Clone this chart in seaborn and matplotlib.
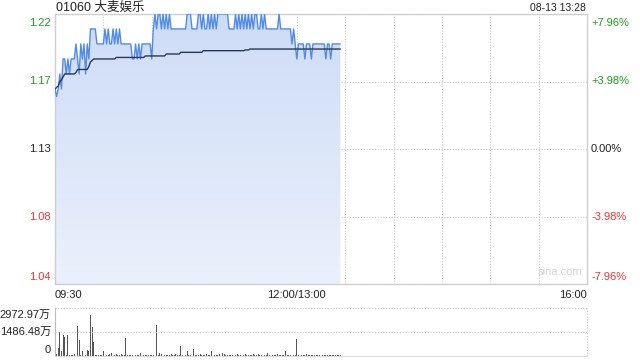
import numpy as np
import pandas as pd
import matplotlib
matplotlib.use("Agg")
import matplotlib.pyplot as plt
import seaborn as sns
from matplotlib.colors import LinearSegmentedColormap
from matplotlib.transforms import blended_transform_factory, offset_copy

# ---------------- data ----------------
title = "01060 大麦娱乐"
stamp = "08-13 13:28"
prev_close = 1.13
pct_levels = [7.96, 3.98, 0.0, -3.98, -7.96]
price_ticks = ["1.22", "1.17", "1.13", "1.08", "1.04"]
pct_ticks = ["+7.96%", "+3.98%", "0.00%", "-3.98%", "-7.96%"]
time_labels = ["09:30", "12:00/13:00", "16:00"]
time_label_pos = [0, 150, 330]
session_minutes = 330
vol_max = 2972.97
vol_labels = ["2972.97万", "1486.48万", "0"]

price = [
    1.17, 1.165, 1.17, 1.18, 1.17, 1.19, 1.19, 1.18, 1.19, 1.18,
    1.19, 1.19, 1.19, 1.20, 1.19, 1.18, 1.20, 1.19, 1.20, 1.18,
    1.20, 1.19, 1.21, 1.21, 1.21, 1.21, 1.20, 1.20, 1.20, 1.20,
    1.20, 1.21, 1.20, 1.21, 1.20, 1.20, 1.21, 1.20, 1.21, 1.20,
    1.21, 1.20, 1.20, 1.20, 1.20, 1.20, 1.20, 1.20, 1.19, 1.19,
    1.20, 1.19, 1.20, 1.19, 1.20, 1.20, 1.20, 1.20, 1.20, 1.20,
    1.19, 1.21, 1.22, 1.21, 1.22, 1.22, 1.21, 1.22, 1.21, 1.22,
    1.21, 1.22, 1.21, 1.21, 1.21, 1.21, 1.21, 1.21, 1.21, 1.21,
    1.21, 1.21, 1.22, 1.22, 1.22, 1.21, 1.21, 1.21, 1.21, 1.22,
    1.22, 1.21, 1.22, 1.21, 1.21, 1.22, 1.21, 1.22, 1.21, 1.22,
    1.21, 1.22, 1.22, 1.22, 1.22, 1.22, 1.22, 1.22, 1.21, 1.21,
    1.21, 1.21, 1.22, 1.21, 1.22, 1.21, 1.22, 1.21, 1.22, 1.21,
    1.22, 1.21, 1.22, 1.21, 1.22, 1.22, 1.21, 1.21, 1.22, 1.21,
    1.22, 1.21, 1.21, 1.21, 1.21, 1.21, 1.21, 1.21, 1.21, 1.22,
    1.21, 1.21, 1.21, 1.21, 1.21, 1.21, 1.21, 1.20, 1.21, 1.20,
    1.19, 1.20, 1.20, 1.20, 1.20, 1.19, 1.20, 1.20, 1.20, 1.19,
    1.20, 1.20, 1.20, 1.20, 1.20, 1.20, 1.20, 1.20, 1.19, 1.20,
    1.20, 1.19, 1.20, 1.20, 1.20, 1.20, 1.20, 1.20,
]

avg = [
    1.170, 1.171, 1.172, 1.175, 1.176, 1.178, 1.180, 1.180, 1.180, 1.180,
    1.180, 1.180, 1.180, 1.181, 1.183, 1.183, 1.183, 1.183, 1.183, 1.183,
    1.183, 1.185, 1.188, 1.189, 1.190, 1.190, 1.190, 1.190, 1.190, 1.190,
    1.190, 1.190, 1.190, 1.190, 1.190, 1.190, 1.190, 1.190, 1.191, 1.191,
    1.191, 1.191, 1.191, 1.191, 1.191, 1.191, 1.191, 1.191, 1.191, 1.191,
    1.191, 1.191, 1.191, 1.191, 1.191, 1.191, 1.192, 1.192, 1.192, 1.192,
    1.192, 1.192, 1.192, 1.192, 1.192, 1.192, 1.192, 1.192, 1.192, 1.1933,
    1.1933, 1.1933, 1.1933, 1.1933, 1.1933, 1.1933, 1.1933, 1.1933, 1.1944, 1.1944,
    1.1944, 1.1944, 1.1944, 1.1944, 1.1944, 1.1944, 1.1944, 1.1944, 1.1944, 1.1944,
    1.1944, 1.1944, 1.1955, 1.1955, 1.1955, 1.1955, 1.1955, 1.1955, 1.1955, 1.1955,
    1.1955, 1.1955, 1.1955, 1.1955, 1.1955, 1.1955, 1.1955, 1.1955, 1.1955, 1.1955,
    1.1955, 1.1955, 1.1955, 1.1955, 1.1955, 1.1955, 1.1955, 1.1955, 1.196, 1.196,
    1.196, 1.1966, 1.1966, 1.1966, 1.1966, 1.1966, 1.1966, 1.1966, 1.1966, 1.1966,
    1.1966, 1.1966, 1.1966, 1.1966, 1.1966, 1.1966, 1.1966, 1.1966, 1.1966, 1.1966,
    1.1966, 1.1966, 1.1966, 1.1966, 1.1966, 1.1966, 1.1966, 1.1966, 1.1966, 1.1966,
    1.1966, 1.1966, 1.1966, 1.1966, 1.1966, 1.1966, 1.1966, 1.1966, 1.1966, 1.1966,
    1.1966, 1.1966, 1.1966, 1.1966, 1.1966, 1.1966, 1.1966, 1.1966, 1.1966, 1.1966,
    1.1966, 1.1966, 1.1966, 1.1966, 1.1966, 1.1966, 1.1966, 1.1966,
]

volume = [
    2972.97, 110, 500, 1490, 300, 1290, 1190, 60, 1290, 90,
    70, 50, 120, 80, 1880, 990, 80, 300, 60, 70,
    400, 300, 2517, 1784, 850, 90, 60, 50, 70, 40,
    300, 60, 80, 50, 120, 160, 180, 90, 140, 70,
    60, 140, 90, 80, 1130, 70, 60, 50, 80, 40,
    60, 70, 50, 200, 80, 60, 90, 40, 50, 70,
    90, 60, 110, 1922, 80, 160, 110, 60, 50, 80,
    70, 60, 120, 50, 90, 140, 60, 80, 595, 70,
    60, 90, 300, 50, 70, 60, 455, 90, 60, 80,
    110, 50, 70, 60, 140, 90, 60, 337, 80, 70,
    50, 90, 110, 60, 180, 150, 70, 60, 90, 50,
    70, 60, 80, 120, 50, 90, 60, 70, 110, 60,
    80, 50, 90, 110, 60, 70, 130, 80, 60, 90,
    70, 60, 160, 90, 110, 60, 80, 70, 120, 60,
    90, 50, 80, 300, 70, 60, 90, 80, 60, 70,
    1030, 90, 60, 80, 70, 60, 110, 90, 50, 80,
    60, 90, 70, 80, 60, 110, 70, 50, 90, 60,
    80, 70, 60, 90, 50, 80, 60, 70,
]

# ---------------- style ----------------
sns.set_style("white")
plt.rcParams["font.family"] = ["Liberation Sans", "Noto Sans CJK SC", "DejaVu Sans"]

GREEN = "#1c9e1c"
RED = "#ee3333"
BLACK = "#222222"
GRID = "#c8c8c8"
label_colors = [GREEN, GREEN, BLACK, RED, RED]

W, H = 640, 360
fig = plt.figure(figsize=(6.4, 3.6), dpi=100)


def fx(px):
    return px / W


def fy(py):
    return 1 - py / H


L, R = 55, 587
T, B = 14, 284
ax = fig.add_axes([fx(L), fy(B), fx(R - L), (B - T) / H])
VT, VB = 308, 356
vax = fig.add_axes([fx(L), fy(VB), fx(R - L), (VB - VT) / H])

df = pd.DataFrame({"minute": np.arange(len(price)), "price": price, "avg": avg,
                   "volume": volume})

ymin = prev_close * (1 - pct_levels[0] / 100)
ymax = prev_close * (1 + pct_levels[0] / 100)

# gradient fill under price
poly = ax.fill_between(df["minute"], df["price"], ymin, color="none", lw=0)
cmap = LinearSegmentedColormap.from_list("g", ["#ebf1fc", "#cddcf7"])
grad = np.linspace(0, 1, 256).reshape(-1, 1)
im = ax.imshow(grad, extent=[0, len(price) - 1, ymin, max(price)], origin="lower",
               aspect="auto", cmap=cmap, zorder=1)
im.set_clip_path(poly.get_paths()[0], ax.transData)

sns.lineplot(data=df, x="minute", y="price", ax=ax, color="#4f8bef", lw=1.0,
             estimator=None, sort=False, zorder=3)
sns.lineplot(data=df, x="minute", y="avg", ax=ax, color="#2c3852", lw=1.0,
             estimator=None, sort=False, zorder=4)

ax.set_xlim(0, session_minutes)
ax.set_ylim(ymin, ymax)
ax.set_xlabel("")
ax.set_ylabel("")
ax.set_xticks(np.arange(0, session_minutes + 1, 30))
ax.set_yticks([prev_close * (1 + p / 100) for p in pct_levels])
ax.tick_params(left=False, bottom=False, labelleft=False, labelbottom=False)
ax.grid(True, color=GRID, linestyle=(0, (1, 1.5)), lw=0.8)
for s in ax.spines.values():
    s.set_color("#cfcfcf")
    s.set_linewidth(1.0)

# price / percent labels
tl = blended_transform_factory(fig.transFigure, ax.transData)
for i, (p, lab, pl, c) in enumerate(zip(pct_levels, price_ticks, pct_ticks, label_colors)):
    yv = prev_close * (1 + p / 100)
    if i == 0:
        va, tr = "top", offset_copy(tl, fig=fig, y=-4, units="dots")
    elif i == len(pct_levels) - 1:
        va, tr = "bottom", offset_copy(tl, fig=fig, y=2, units="dots")
    else:
        va, tr = "center", tl
    fig.text(fx(51), yv, lab, color=c, fontsize=8, ha="right", va=va, transform=tr)
    fig.text(fx(591), yv, pl, color=c, fontsize=8, ha="left", va=va, transform=tr)

ax.text(0.95, 0.025, "sina.com", transform=ax.transAxes, color="#d4d4d4",
        fontsize=8, ha="center", va="bottom")

# header
fig.text(fx(56), fy(8), title, fontsize=9, color=BLACK, ha="left", va="center")
fig.text(fx(586), fy(8), stamp, fontsize=7.5, color=BLACK, ha="right", va="center")

# time labels
tx = blended_transform_factory(ax.transData, fig.transFigure)
for pos, lab in zip(time_label_pos, time_labels):
    ha = "left" if pos == 0 else ("right" if pos == session_minutes else "center")
    fig.text(pos, fy(295), lab, transform=tx, fontsize=8, color=BLACK, ha=ha, va="center")

# volume
vax.bar(df["minute"], df["volume"], width=0.55, color="#555555", lw=0)
vax.set_xlim(0, session_minutes)
vax.set_ylim(0, vol_max)
vax.set_xticks([])
vax.set_yticks([])
vax.axhline(vol_max, color=GRID, linestyle=(0, (1, 1.5)), lw=0.8, clip_on=False)
vax.axhline(vol_max / 2, color=GRID, linestyle=(0, (1, 1.5)), lw=0.8)
vax.axvline(session_minutes, color=GRID, linestyle=(0, (1, 1.5)), lw=0.8, clip_on=False)
vax.spines["top"].set_visible(False)
vax.spines["right"].set_visible(False)
vax.spines["left"].set_color("#bbbbbb")
vax.spines["bottom"].set_color("#dddddd")

vl_y = [315, 332, 350]
for lab, py in zip(vol_labels, vl_y):
    fig.text(fx(51), fy(py), lab, fontsize=8, color=BLACK, ha="right", va="center")

fig.savefig("out.png", dpi=100)
